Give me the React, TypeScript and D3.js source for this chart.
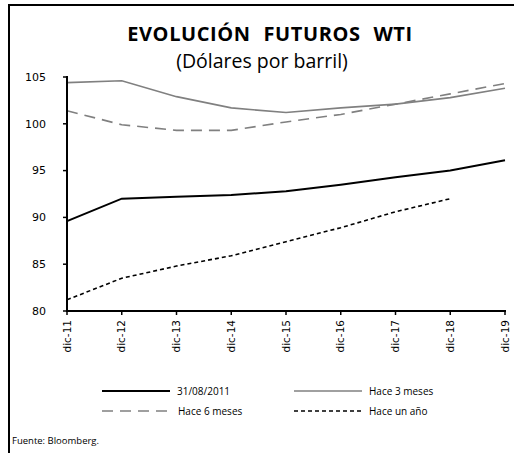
import * as d3 from 'd3'

const CATEGORIES = ['dic-11', 'dic-12', 'dic-13', 'dic-14', 'dic-15', 'dic-16', 'dic-17', 'dic-18', 'dic-19']

const ACTUAL = [89.6, 92.0, 92.2, 92.4, 92.8, 93.5, 94.3, 95.0, 96.1]
const HACE_3_MESES = [104.4, 104.6, 102.9, 101.7, 101.2, 101.7, 102.1, 102.8, 103.8]
const HACE_6_MESES = [101.4, 99.9, 99.3, 99.3, 100.2, 101.0, 102.1, 103.2, 104.3]
const HACE_UN_ANO = [81.2, 83.5, 84.8, 85.9, 87.4, 88.9, 90.6, 92.0, null]

const Y_TICKS = [80, 85, 90, 95, 100, 105]

const SERIES = [
  { name: '31/08/2011', values: ACTUAL, color: '#000000', width: 2, dash: null },
  { name: 'Hace 3 meses', values: HACE_3_MESES, color: '#808080', width: 1.6, dash: null },
  { name: 'Hace 6 meses', values: HACE_6_MESES, color: '#808080', width: 1.6, dash: '11,7' },
  { name: 'Hace un año', values: HACE_UN_ANO, color: '#000000', width: 1.6, dash: '4,3' }
]

export default function App() {
  const width = 514
  const height = 453
  const left = 67
  const right = 505
  const top = 77
  const bottom = 311

  const x = d3.scalePoint<string>().domain(CATEGORIES).range([left, right])
  const y = d3.scaleLinear().domain([80, 105]).range([bottom, top])

  const line = d3.line<number | null>()
    .defined(d => d != null)
    .x((_, i) => x(CATEGORIES[i]) as number)
    .y(d => y(d as number))

  const legendPos = [
    { x: 102, y: 391 },
    { x: 294, y: 391 },
    { x: 102, y: 411 },
    { x: 294, y: 411 }
  ]

  const tickFont = '"DejaVu Sans", Verdana, sans-serif'
  const textFont = '"Open Sans", "Noto Sans", sans-serif'

  return (
    <svg width={width} height={height} style={{ position: 'absolute', left: 0, top: 0, background: '#fff' }}>
      {/* frame */}
      <line x1={9} y1={4} x2={9} y2={height} stroke="#000" strokeWidth={2} />
      <line x1={8} y1={5} x2={width} y2={5} stroke="#000" strokeWidth={2} />

      {/* titles */}
      <text x={270} y={41} textAnchor="middle" fontFamily={textFont} fontWeight="bold" fontSize={20} wordSpacing={7} letterSpacing={0.6} fill="#000">
        EVOLUCIÓN FUTUROS WTI
      </text>
      <text x={262} y={68} textAnchor="middle" fontFamily={textFont} fontSize={19.5} fill="#000">
        (Dólares por barril)
      </text>

      {/* series */}
      {SERIES.map(s => (
        <path
          key={s.name}
          d={line(s.values) || ''}
          fill="none"
          stroke={s.color}
          strokeWidth={s.width}
          strokeDasharray={s.dash || undefined}
        />
      ))}

      {/* y axis */}
      <line x1={left} y1={top - 1} x2={left} y2={bottom + 1} stroke="#000" strokeWidth={2} />
      {Y_TICKS.map(t => (
        <g key={t}>
          <line x1={left - 4} y1={y(t)} x2={left} y2={y(t)} stroke="#000" strokeWidth={1.5} />
          <text x={46} y={y(t)} dy="0.35em" textAnchor="end" fontFamily={tickFont} fontSize={11} fill="#000">
            {t}
          </text>
        </g>
      ))}

      {/* x axis */}
      <line x1={left - 1} y1={bottom} x2={right + 1} y2={bottom} stroke="#000" strokeWidth={2} />
      {CATEGORIES.map(c => (
        <g key={c}>
          <line x1={x(c)} y1={bottom} x2={x(c)} y2={bottom + 4} stroke="#000" strokeWidth={1.5} />
          <text
            transform={`translate(${x(c)},${bottom + 9}) rotate(-90)`}
            textAnchor="end"
            dy="0.35em"
            fontFamily={tickFont}
            fontSize={10.5}
            fill="#000"
          >
            {c}
          </text>
        </g>
      ))}

      {/* legend */}
      {SERIES.map((s, i) => (
        <g key={s.name} transform={`translate(${legendPos[i].x},${legendPos[i].y})`}>
          <line x1={0} y1={0} x2={68} y2={0} stroke={s.color} strokeWidth={s.width} strokeDasharray={s.dash || undefined} />
          <text x={i === 2 ? 76 : 75} y={0} dy="0.35em" fontFamily={textFont} fontSize={10} fill="#000">
            {s.name}
          </text>
        </g>
      ))}

      <text x={12} y={444} fontFamily={textFont} fontSize={9.5} fill="#000">
        Fuente:  Bloomberg.
      </text>
    </svg>
  )
}
